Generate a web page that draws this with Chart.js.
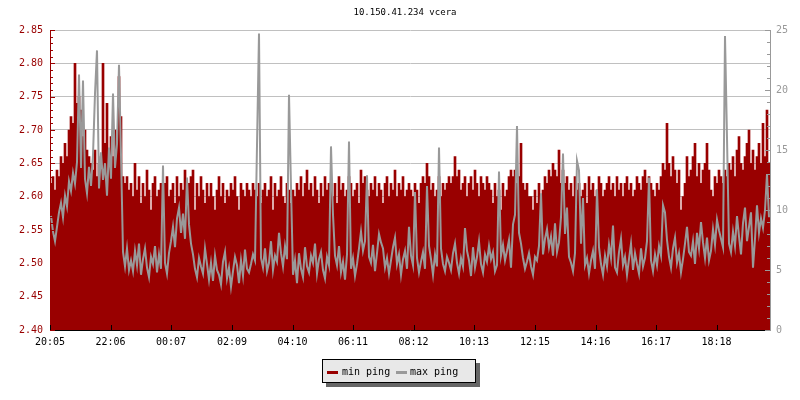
<!DOCTYPE html>
<html>
<head>
<meta charset="utf-8">
<script src="https://cdn.jsdelivr.net/npm/chart.js@4/dist/chart.umd.min.js"></script>
<style>
  html, body { margin: 0; padding: 0; background: #fff; }
  #wrap { position: relative; width: 800px; height: 400px; }
  #c { position: absolute; left: 0; top: 0; }
  .txt { position: absolute; font-family: "DejaVu Sans Mono", monospace; white-space: nowrap; }
  #title { top: 6px; left: 0; width: 810px; text-align: center; font-size: 9px; line-height: 12px; color: #000; }
  #legend { position: absolute; left: 322px; top: 359px; width: 152px; height: 22px; background: #e8e8e8;
            border: 1px solid #000; box-shadow: 4px 4px 0 #666; }
  .sw { position: absolute; height: 3px; width: 11px; top: 11px; }
</style>
</head>
<body>
<div id="wrap">
  <canvas id="c" width="800" height="400"></canvas>
  <div id="title" class="txt">10.150.41.234 vcera</div>
  <div id="legend">
    <div class="sw" style="left:4px;background:#990000"></div>
    <div class="txt" style="left:19px;top:6px;font-size:10px;line-height:12px;">min ping</div>
    <div class="sw" style="left:73px;background:#999999"></div>
    <div class="txt" style="left:87px;top:6px;font-size:10px;line-height:12px;">max ping</div>
  </div>
</div>
<script>
// ---- data (one sample every 4 minutes, starting 20:05) ----
const sampleMinutes = 4;
const xTickLabels = ['20:05','22:06','00:07','02:09','04:10','06:11','08:12','10:13','12:15','14:16','16:17','18:18'];
const leftTickValues = [2.40,2.45,2.50,2.55,2.60,2.65,2.70,2.75,2.80,2.85];
const rightTickValues = [0,5,10,15,20,25];

const minPing = [
 2.62,2.63,2.61,2.64,2.63,2.66,2.65,2.68,2.66,2.70,2.72,2.71,2.80,2.74,2.75,2.73,2.69,2.70,2.67,2.66,
 2.65,2.64,2.67,2.63,2.65,2.66,2.80,2.68,2.74,2.67,2.69,2.66,2.70,2.68,2.78,2.72,2.63,2.62,2.63,2.61,
 2.62,2.60,2.65,2.61,2.63,2.59,2.62,2.60,2.64,2.61,2.58,2.62,2.63,2.60,2.61,2.62,2.59,2.62,2.63,2.60,
 2.61,2.62,2.59,2.63,2.60,2.62,2.61,2.64,2.60,2.62,2.63,2.64,2.58,2.62,2.60,2.63,2.61,2.59,2.62,2.60,
 2.62,2.60,2.58,2.61,2.63,2.60,2.62,2.59,2.61,2.60,2.62,2.61,2.63,2.60,2.58,2.62,2.61,2.60,2.62,2.61,
 2.60,2.62,2.61,2.60,2.62,2.59,2.61,2.62,2.60,2.61,2.63,2.58,2.62,2.60,2.61,2.63,2.60,2.59,2.62,2.61,
 2.59,2.61,2.60,2.62,2.61,2.63,2.60,2.62,2.64,2.61,2.62,2.60,2.63,2.61,2.59,2.62,2.60,2.63,2.61,2.62,
 2.61,2.60,2.62,2.59,2.63,2.61,2.62,2.60,2.61,2.63,2.62,2.60,2.61,2.62,2.59,2.64,2.62,2.63,2.61,2.60,
 2.62,2.61,2.63,2.60,2.62,2.61,2.59,2.62,2.63,2.60,2.62,2.61,2.64,2.60,2.62,2.61,2.63,2.60,2.61,2.62,
 2.61,2.60,2.62,2.61,2.59,2.62,2.63,2.62,2.65,2.63,2.61,2.62,2.60,2.61,2.63,2.60,2.62,2.61,2.62,2.63,
 2.62,2.63,2.66,2.63,2.64,2.61,2.62,2.63,2.60,2.62,2.63,2.61,2.64,2.62,2.60,2.63,2.62,2.61,2.63,2.62,
 2.61,2.59,2.62,2.60,2.61,2.58,2.62,2.60,2.61,2.63,2.64,2.63,2.64,2.62,2.63,2.68,2.62,2.61,2.62,2.60,
 2.60,2.58,2.61,2.59,2.62,2.60,2.61,2.63,2.62,2.64,2.63,2.65,2.64,2.63,2.67,2.62,2.64,2.62,2.63,2.61,
 2.62,2.60,2.63,2.61,2.62,2.60,2.61,2.62,2.59,2.63,2.61,2.62,2.60,2.61,2.63,2.62,2.60,2.61,2.62,2.63,
 2.61,2.62,2.60,2.63,2.61,2.62,2.60,2.62,2.63,2.61,2.62,2.60,2.61,2.63,2.62,2.61,2.63,2.64,2.62,2.63,
 2.62,2.61,2.60,2.62,2.61,2.63,2.65,2.64,2.71,2.65,2.63,2.66,2.64,2.62,2.64,2.58,2.60,2.62,2.66,2.63,
 2.64,2.66,2.68,2.63,2.65,2.62,2.64,2.65,2.68,2.64,2.61,2.60,2.63,2.62,2.64,2.63,2.62,2.64,2.63,2.65,
 2.64,2.66,2.63,2.67,2.69,2.65,2.64,2.66,2.68,2.70,2.65,2.67,2.64,2.66,2.68,2.65,2.71,2.66,2.73,2.65
];

const maxPing = [
 9.5,8.2,7.4,8.6,9.8,10.6,9.4,11.2,10.3,12.4,11.6,13.1,12.2,14.0,21.3,13.5,20.8,12.6,11.4,13.6,
 12.0,14.6,19.7,23.3,11.8,14.8,12.5,13.9,11.2,15.2,12.6,19.7,13.5,15.5,22.1,14.6,6.5,5.3,6.8,5.0,
 5.8,4.9,6.6,5.4,7.2,4.6,5.9,6.8,5.2,4.4,6.1,5.5,7.0,4.8,6.3,5.1,13.7,5.6,4.7,6.4,
 7.4,8.6,6.9,9.3,10.2,8.1,9.7,7.6,12.7,8.8,7.2,6.3,5.1,4.4,6.0,5.3,4.7,6.8,5.5,4.2,
 5.6,4.1,6.2,5.0,4.6,3.8,5.7,6.5,4.3,5.2,3.6,4.9,6.1,5.4,3.9,5.8,4.5,6.7,5.1,4.8,
 5.5,6.3,5.8,15.4,24.7,6.0,5.2,6.8,4.9,5.6,7.4,5.0,6.2,5.7,8.1,6.4,5.3,7.0,5.9,19.6,
 11.9,4.6,5.8,3.9,6.4,5.1,4.4,6.9,5.3,4.8,6.2,5.6,7.2,4.7,5.9,6.5,5.0,4.3,6.1,5.4,
 15.3,9.6,6.2,5.4,7.0,4.8,5.7,4.2,6.3,15.7,5.1,6.0,4.5,5.5,6.8,8.2,6.6,7.4,12.9,6.1,
 5.6,7.1,4.9,6.4,8.0,7.3,6.8,5.2,6.0,4.7,5.8,6.9,7.7,5.5,6.3,4.6,5.9,6.6,5.1,8.6,
 6.2,5.4,11.5,6.0,4.8,5.7,6.5,5.1,12.0,7.0,5.9,4.6,6.3,5.3,15.2,6.8,5.5,4.9,6.1,5.6,
 5.0,6.4,7.2,5.6,4.7,6.0,5.3,8.5,6.6,5.8,4.5,6.9,5.2,6.1,7.4,5.5,4.8,6.3,5.7,7.0,
 5.9,6.5,4.9,5.4,13.2,6.2,7.1,5.8,6.6,7.5,5.2,8.8,9.6,17.0,8.1,7.2,6.0,5.1,5.7,6.4,
 5.3,4.6,6.1,5.8,7.0,11.4,6.3,7.6,8.4,6.9,7.8,6.2,8.9,6.5,7.3,9.4,14.7,8.0,10.2,6.1,
 5.6,4.9,6.4,14.1,13.3,7.2,11.0,5.4,6.0,4.7,5.8,6.6,5.1,11.7,6.9,5.5,4.6,6.2,5.3,7.1,
 6.0,8.7,5.2,4.8,6.5,7.6,5.4,6.1,4.6,5.9,7.2,5.0,6.4,5.5,4.7,6.8,5.3,6.0,7.4,12.7,
 5.8,4.9,6.3,5.4,7.0,6.2,10.4,9.8,7.5,6.1,5.2,6.8,7.7,5.6,6.4,4.8,5.9,7.2,8.6,6.5,
 6.2,7.4,5.5,8.1,6.8,9.0,7.3,6.0,7.7,5.8,6.6,8.4,7.1,9.2,8.3,7.6,6.9,24.5,16.0,7.2,
 6.5,8.2,7.0,9.5,7.8,6.3,8.9,10.2,7.4,8.6,9.8,5.2,7.6,10.4,8.1,9.3,8.5,10.0,13.0,9.4
];

// ---- derived ----
const RED = '#990000', GRAY = '#999999';
const FONT = "'DejaVu Sans Mono', monospace";
function minutesFromStart(lbl) {
  const [h, m] = lbl.split(':').map(Number);
  const s = xTickLabels[0].split(':').map(Number);
  return ((h * 60 + m) - (s[0] * 60 + s[1]) + 1440) % 1440;
}
const xTickPositions = xTickLabels.map(minutesFromStart);
const totalMinutes = minPing.length * sampleMinutes;
const minPts = minPing.map((v, i) => ({ x: (i + 0.5) * sampleMinutes, y: v }));
const maxPts = maxPing.map((v, i) => ({ x: (i + 0.5) * sampleMinutes, y: v }));

const tickPlugin = {
  id: 'axisTicks',
  afterDraw(chart) {
    const ctx = chart.ctx, ys = chart.scales.y, y1 = chart.scales.y1, xs = chart.scales.x;
    const a = chart.chartArea;
    ctx.save();
    ctx.lineWidth = 1;
    ctx.strokeStyle = RED;
    for (let k = 0; k <= 45; k++) {
      const py = Math.round(ys.getPixelForValue(2.40 + k * 0.01)) + 0.5;
      const len = (k % 5 === 0) ? 5 : 3;
      ctx.beginPath(); ctx.moveTo(a.left, py); ctx.lineTo(a.left + len, py); ctx.stroke();
    }
    ctx.strokeStyle = GRAY;
    for (let k = 0; k <= 25; k++) {
      const py = Math.round(y1.getPixelForValue(k)) + 0.5;
      const len = (k % 5 === 0) ? 5 : 3;
      ctx.beginPath(); ctx.moveTo(a.right, py); ctx.lineTo(a.right - len, py); ctx.stroke();
    }
    ctx.strokeStyle = '#000';
    xTickPositions.forEach(m => {
      const px = Math.round(xs.getPixelForValue(m)) + 0.5;
      ctx.beginPath(); ctx.moveTo(px, a.bottom); ctx.lineTo(px, a.bottom - 5); ctx.stroke();
    });
    ctx.restore();
  }
};

new Chart(document.getElementById('c'), {
  type: 'bar',
  data: {
    datasets: [
      { type: 'line', label: 'max ping', data: maxPts, yAxisID: 'y1', xAxisID: 'x',
        borderColor: GRAY, borderWidth: 2, pointRadius: 0, tension: 0, fill: false, order: 0,
        borderJoinStyle: 'miter' },
      { type: 'bar', label: 'min ping', data: minPts, yAxisID: 'y', xAxisID: 'x',
        backgroundColor: RED, borderWidth: 0, barPercentage: 1, categoryPercentage: 1, grouped: false, order: 1 }
    ]
  },
  options: {
    responsive: false,
    animation: false,
    devicePixelRatio: 1,
    layout: { padding: { top: 30, left: 0, right: 0, bottom: 0 } },
    plugins: { legend: { display: false }, title: { display: false }, tooltip: { enabled: false } },
    scales: {
      x: {
        type: 'linear', min: 0, max: totalMinutes, offset: false,
        grid: { display: false, drawTicks: false },
        border: { display: true, color: '#000', width: 1 },
        afterBuildTicks(scale) { scale.ticks = xTickPositions.map(v => ({ value: v })); },
        afterFit(scale) { scale.height = 70; },
        ticks: { autoSkip: false, maxRotation: 0, padding: 6, color: '#000',
                 font: { family: FONT, size: 10 },
                 callback: (v, i) => xTickLabels[i] }
      },
      y: {
        position: 'left', min: 2.40, max: 2.85,
        afterBuildTicks(scale) { scale.ticks = leftTickValues.map(v => ({ value: v })); },
        afterFit(scale) { scale.width = 50; },
        grid: { color: '#c0c0c0', lineWidth: 1, drawTicks: false },
        border: { display: true, color: RED, width: 1 },
        ticks: { padding: 7, color: RED, font: { family: FONT, size: 10 },
                 callback: v => Number(v).toFixed(2) }
      },
      y1: {
        position: 'right', min: 0, max: 25,
        afterBuildTicks(scale) { scale.ticks = rightTickValues.map(v => ({ value: v })); },
        afterFit(scale) { scale.width = 30; },
        grid: { display: false, drawTicks: false },
        border: { display: true, color: GRAY, width: 1 },
        ticks: { padding: 6, color: GRAY, font: { family: FONT, size: 10 } }
      }
    }
  },
  plugins: [tickPlugin]
});
</script>
</body>
</html>
